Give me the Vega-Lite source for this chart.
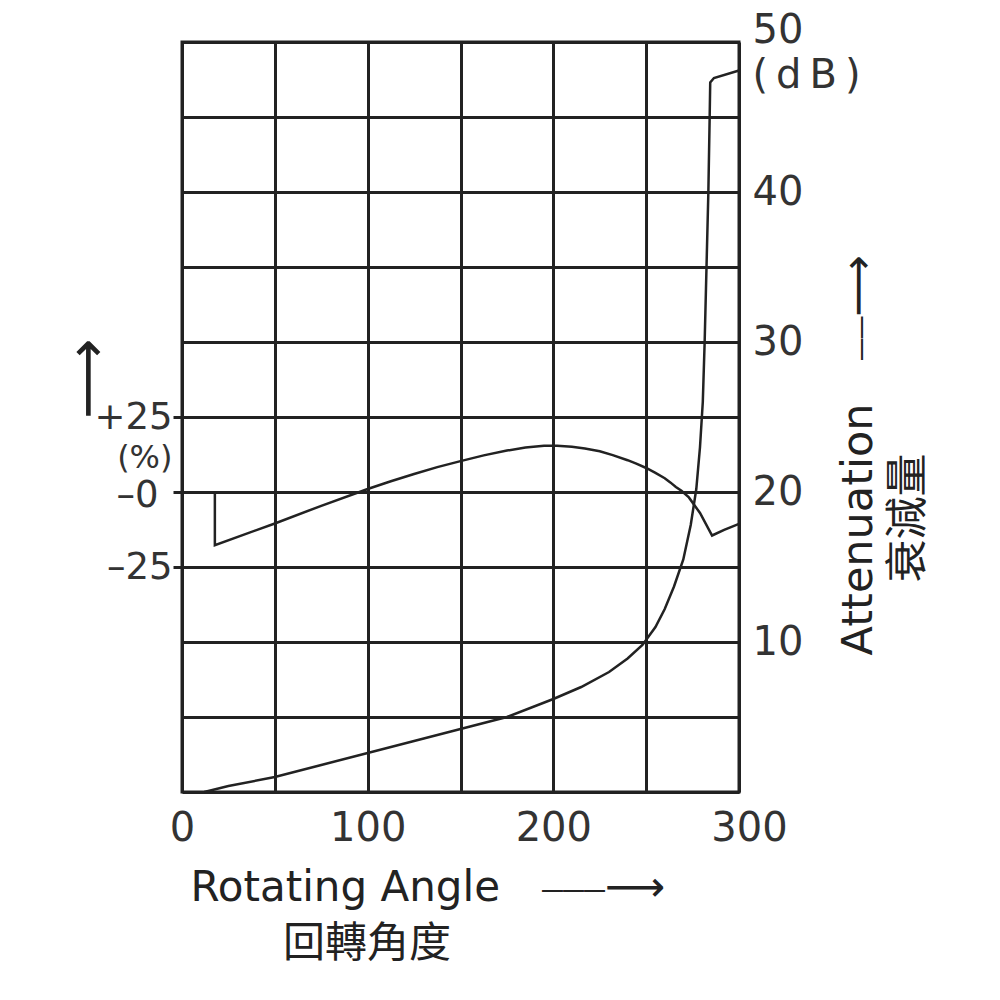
{
  "$schema": "https://vega.github.io/schema/vega-lite/v6.json",
  "width": 557,
  "height": 750,
  "autosize": {"type": "none"},
  "padding": {"left": 182, "top": 42, "right": 261, "bottom": 208},
  "background": "white",
  "config": {
    "view": {"stroke": "#222222", "strokeWidth": 3},
    "axis": {
      "domain": false,
      "labelFont": "DejaVu Sans",
      "labelColor": "#333333",
      "labelFontSize": 40,
      "labelOverlap": false,
      "labelFlush": false,
      "labelBound": false,
      "titleFont": "'DejaVu Sans', 'Noto Sans CJK TC'",
      "titleColor": "#222222",
      "titleFontWeight": "normal"
    }
  },
  "layer": [
    {
      "data": {
        "values": [
          {"i": 1, "angle": 12, "dB": 0},
          {"i": 2, "angle": 25, "dB": 0.4},
          {"i": 3, "angle": 50, "dB": 1.0},
          {"i": 4, "angle": 75, "dB": 1.8},
          {"i": 5, "angle": 100, "dB": 2.6},
          {"i": 6, "angle": 125, "dB": 3.4},
          {"i": 7, "angle": 150, "dB": 4.2},
          {"i": 8, "angle": 175, "dB": 5.0},
          {"i": 9, "angle": 200, "dB": 6.2},
          {"i": 10, "angle": 215, "dB": 7.0},
          {"i": 11, "angle": 230, "dB": 8.0},
          {"i": 12, "angle": 240, "dB": 8.9},
          {"i": 13, "angle": 248, "dB": 9.8},
          {"i": 14, "angle": 255, "dB": 11.0},
          {"i": 15, "angle": 260, "dB": 12.2},
          {"i": 16, "angle": 265, "dB": 13.7},
          {"i": 17, "angle": 270, "dB": 15.5},
          {"i": 18, "angle": 274, "dB": 17.8},
          {"i": 19, "angle": 277, "dB": 20.2},
          {"i": 20, "angle": 279, "dB": 23},
          {"i": 21, "angle": 280.5, "dB": 26},
          {"i": 22, "angle": 281.5, "dB": 30},
          {"i": 23, "angle": 282.5, "dB": 35},
          {"i": 24, "angle": 283.5, "dB": 40},
          {"i": 25, "angle": 284.2, "dB": 45},
          {"i": 26, "angle": 284.5, "dB": 47.3},
          {"i": 27, "angle": 286.5, "dB": 47.6},
          {"i": 28, "angle": 300, "dB": 48.1}
        ]
      },
      "mark": {"type": "line", "color": "#222222", "strokeWidth": 2.5},
      "encoding": {
        "x": {
          "field": "angle",
          "type": "quantitative",
          "scale": {"domain": [0, 300], "nice": false},
          "axis": {
            "values": [0, 50, 100, 150, 200, 250, 300],
            "labelExpr": "datum.value % 100 == 0 ? datum.label : ''",
            "grid": true,
            "gridColor": "#222222",
            "gridWidth": 3,
            "ticks": false,
            "tickSize": 0,
            "labelPadding": 16,
            "labelOffset": {"condition": {"test": "datum.value == 300", "value": 10}, "value": 0},
            "title": ["Rotating Angle\u2003⎯⎯⎯⟶", "\u200B\u2003\u2003\u2009回轉角度"],
            "titleFontSize": 42,
            "titleAlign": "left",
            "titleBaseline": "top",
            "titleX": 8,
            "titleY": 75,
            "titleLineHeight": 56
          }
        },
        "y": {
          "field": "dB",
          "type": "quantitative",
          "scale": {"domain": [0, 50], "nice": false},
          "axis": {
            "orient": "right",
            "values": [0, 5, 10, 15, 20, 25, 30, 35, 40, 45, 47.8, 50],
            "labelExpr": "datum.value == 47.8 ? '(\u2009d\u2009B\u2009)' : (datum.value % 10 == 0 && datum.value > 0 ? datum.label : '')",
            "grid": true,
            "gridColor": "#222222",
            "gridWidth": 3,
            "gridOpacity": {"condition": {"test": "datum.value == 47.8", "value": 0}, "value": 1},
            "ticks": false,
            "tickSize": 0,
            "labelAlign": "left",
            "labelPadding": 13,
            "labelOffset": {"condition": {"test": "datum.value == 50", "value": -12}, "value": 0},
            "title": ["Attenuation\u2003⎯⎯⟶", "\u200B\u2003\u2002\u2009衰減量"],
            "titleFontSize": 43,
            "titleAngle": 270,
            "titleAlign": "left",
            "titleBaseline": "top",
            "titleX": 98,
            "titleY": 613,
            "titleLineHeight": 50
          }
        },
        "order": {"field": "i", "type": "quantitative"}
      }
    },
    {
      "data": {
        "values": [
          {"i": 1, "angle": 17.7, "pct": 0},
          {"i": 2, "angle": 17.7, "pct": -17.7},
          {"i": 3, "angle": 50, "pct": -10.5},
          {"i": 4, "angle": 75, "pct": -4.6},
          {"i": 5, "angle": 100, "pct": 1.0},
          {"i": 6, "angle": 112.5, "pct": 3.6},
          {"i": 7, "angle": 125, "pct": 6.0},
          {"i": 8, "angle": 137.5, "pct": 8.3},
          {"i": 9, "angle": 150, "pct": 10.3},
          {"i": 10, "angle": 162.5, "pct": 12.2},
          {"i": 11, "angle": 175, "pct": 13.8},
          {"i": 12, "angle": 185, "pct": 14.8},
          {"i": 13, "angle": 195, "pct": 15.4},
          {"i": 14, "angle": 202, "pct": 15.4},
          {"i": 15, "angle": 210, "pct": 15.1},
          {"i": 16, "angle": 217, "pct": 14.5},
          {"i": 17, "angle": 225, "pct": 13.6},
          {"i": 18, "angle": 232, "pct": 12.3},
          {"i": 19, "angle": 240, "pct": 10.6},
          {"i": 20, "angle": 245, "pct": 9.4},
          {"i": 21, "angle": 250, "pct": 8.0},
          {"i": 22, "angle": 255, "pct": 6.4},
          {"i": 23, "angle": 260, "pct": 4.6},
          {"i": 24, "angle": 263, "pct": 3.2},
          {"i": 25, "angle": 266, "pct": 1.7},
          {"i": 26, "angle": 269, "pct": 0.4},
          {"i": 27, "angle": 273, "pct": -1.8},
          {"i": 28, "angle": 279, "pct": -7.0},
          {"i": 29, "angle": 285.5, "pct": -14.5},
          {"i": 30, "angle": 292, "pct": -12.6},
          {"i": 31, "angle": 300, "pct": -10.6}
        ]
      },
      "mark": {"type": "line", "color": "#222222", "strokeWidth": 2.5},
      "encoding": {
        "x": {"field": "angle", "type": "quantitative"},
        "y": {
          "field": "pct",
          "type": "quantitative",
          "scale": {"domain": [-100, 150], "nice": false},
          "axis": {
            "orient": "left",
            "values": [-25, 0, 11.5, 25],
            "labelExpr": "datum.value == 25 ? '+25' : (datum.value == 0 ? '–0' : (datum.value == -25 ? '–25' : '(%)'))",
            "labelFontSize": {"condition": {"test": "datum.value == 11.5", "value": 32}, "value": 37},
            "grid": false,
            "ticks": true,
            "tickSize": 9,
            "tickWidth": 3,
            "tickColor": "#222222",
            "tickOpacity": {"condition": {"test": "datum.value == 11.5", "value": 0}, "value": 1},
            "labelPadding": {"condition": {"test": "datum.value == 0", "value": 15}, "value": 1},
            "labelOffset": {"condition": {"test": "datum.value == 0", "value": 3}, "value": 0},
            "title": "⟶",
            "titleFontSize": 56,
            "titleAngle": 270,
            "titleAlign": "center",
            "titleBaseline": "middle",
            "titleX": -94,
            "titleY": 336
          }
        },
        "order": {"field": "i", "type": "quantitative"}
      }
    }
  ],
  "resolve": {"scale": {"y": "independent"}}
}
